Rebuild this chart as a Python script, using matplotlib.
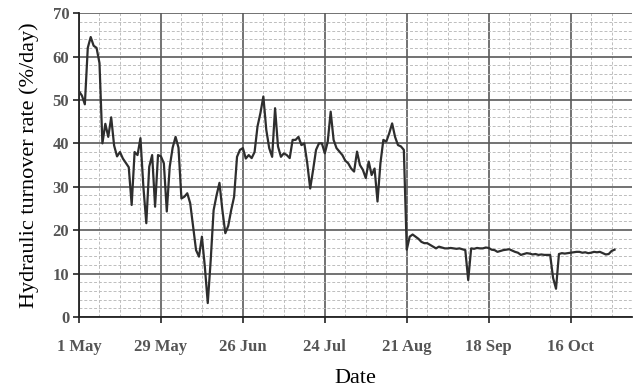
import matplotlib
matplotlib.use("Agg")
import matplotlib.pyplot as plt
import numpy as np
import pandas as pd

# daily hydraulic turnover rate (%/day), starting 1 May
start_date = "2007-05-01"
turnover_rate = [
    52, 51, 49, 62, 64.5, 62.5, 62, 58.5, 40, 44.5,
    41.5, 46, 39.5, 37, 38, 36.5, 35.5, 34.5, 25.8, 38,
    37.3, 41.2, 30, 21.6, 34.6, 37.3, 25.4, 37.3, 37, 35.4,
    24.3, 34.6, 39, 41.5, 39, 27.3, 27.7, 28.5, 26.2, 20.8,
    15.4, 13.9, 18.5, 11.6, 3.2, 13, 24.6, 28, 30.9, 24.6,
    19.3, 21, 24.6, 27.7, 36.9, 38.5, 38.9, 36.5, 37.3, 36.6,
    38, 43.9, 47, 50.8, 43.1, 38.9, 36.9, 48.1, 39.3, 36.9,
    37.7, 37.3, 36.6, 40.8, 40.8, 41.5, 39.6, 40, 35.4, 29.6,
    33.9, 38.5, 40, 40, 37.7, 40.4, 47.3, 40.8, 38.9, 38.1,
    37.3, 36, 35.4, 34.2, 33.5, 38.1, 35, 33.9, 32, 35.8,
    32.7, 34.2, 26.6, 35.4, 40.8, 40.4, 42.3, 44.6, 41.5, 39.6,
    39.3, 38.5, 15.5, 18.5, 19, 18.5, 18, 17.3, 17, 17,
    16.6, 16.2, 15.8, 16.2, 16, 15.8, 15.8, 15.9, 15.8, 15.7,
    15.8, 15.6, 15.4, 8.5, 15.8, 15.7, 15.9, 15.8, 15.8, 16,
    15.9, 15.5, 15.4, 15, 15.2, 15.4, 15.5, 15.6, 15.3, 15,
    14.8, 14.3, 14.5, 14.7, 14.6, 14.4, 14.5, 14.3, 14.4, 14.3,
    14.3, 14.3, 9, 6.5, 14.5, 14.7, 14.6, 14.7, 14.8, 14.9,
    15, 15, 14.8, 14.9, 14.7, 14.8, 15, 14.9, 15, 14.7,
    14.4, 14.5, 15.2, 15.5,
]
tick_labels = ["1 May", "29 May", "26 Jun", "24 Jul", "21 Aug", "18 Sep", "16 Oct"]

dates = pd.date_range(start_date, periods=len(turnover_rate), freq="D")
major_ticks = pd.date_range(start_date, periods=len(tick_labels), freq="28D")
minor_ticks = pd.date_range(start_date, periods=28, freq="7D")

plt.rcParams["font.family"] = ["Liberation Serif", "DejaVu Serif"]

fig = plt.figure(figsize=(6.34, 3.87), dpi=100)
ax = fig.add_axes([0.1246, 0.181, 0.8724, 0.785])

ax.plot(dates, turnover_rate, color="#2e2e2e", linewidth=1.6, zorder=3)

ax.set_xlim(dates[0], dates[0] + pd.Timedelta(days=183.3))
ax.set_ylim(0, 70)
ax.set_xticks(major_ticks)
ax.set_xticks(minor_ticks, minor=True)
ax.set_xticklabels(tick_labels)
ax.set_yticks(np.arange(0, 71, 10))
ax.set_yticks(np.arange(0, 71, 2), minor=True)

ax.grid(which="major", color="#5a5a5a", linewidth=1.2, linestyle="-")
ax.grid(which="minor", color="#bdbdbd", linewidth=0.7, linestyle=(0, (3, 2)))
ax.set_axisbelow(True)

for side in ["top", "right"]:
    ax.spines[side].set_visible(False)
ax.spines["left"].set_color("#222222")
ax.spines["bottom"].set_color("#222222")
ax.spines["left"].set_linewidth(1.3)
ax.spines["bottom"].set_linewidth(1.3)

ax.tick_params(which="major", direction="out", length=4, width=1.2, color="#222222",
               labelsize=12, labelcolor="#555555", pad=3)
ax.tick_params(which="minor", length=0)
for lbl in ax.get_xticklabels() + ax.get_yticklabels():
    lbl.set_fontweight("bold")
ax.tick_params(axis="x", pad=12)

ax.set_xlabel("Date", fontsize=16, labelpad=10)
ax.set_ylabel("Hydraulic turnover rate (%/day)", fontsize=16, labelpad=10)

fig.savefig("out.png", dpi=100)
